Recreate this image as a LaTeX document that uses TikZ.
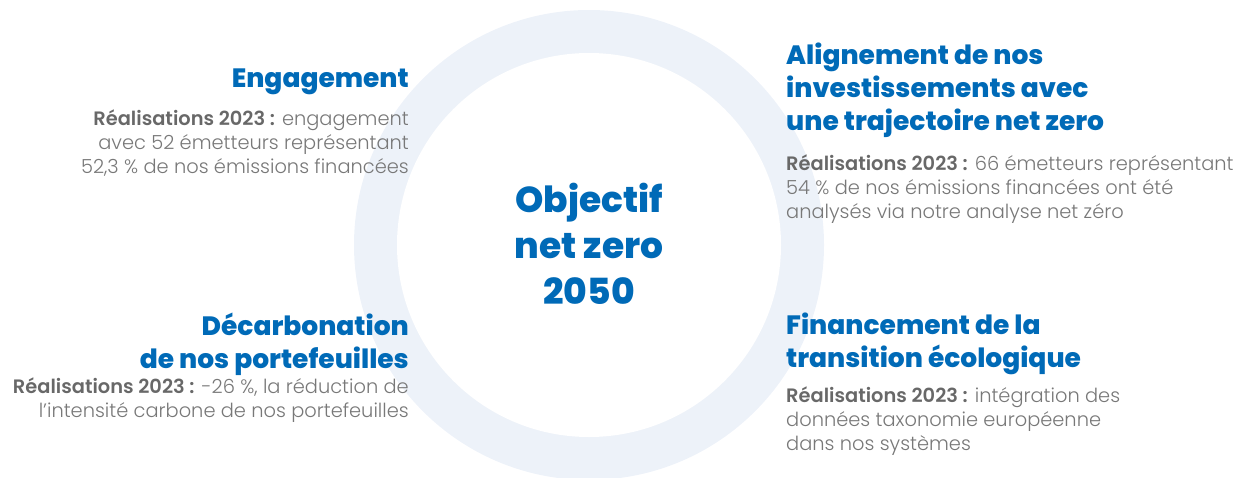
\documentclass[tikz,border=0pt]{standalone}
\usepackage{fontspec}
\setmainfont{Poppins}[BoldFont=Poppins ExtraBold]
\newfontfamily\poplight{Poppins Light}
\newfontfamily\popsemi{Poppins SemiBold}
\definecolor{ringc}{RGB}{237,242,249}
\definecolor{headc}{RGB}{0,106,183}
\definecolor{boldg}{RGB}{104,104,104}
\definecolor{lightg}{RGB}{120,120,120}
\tikzset{
  head/.style={inner sep=0pt, text=headc, font=\fontsize{26.5}{33}\selectfont\bfseries},
  body/.style={inner sep=0pt, text=lightg, font=\fontsize{19.4}{24}\selectfont\poplight},
  center/.style={inner sep=0pt, text=headc, align=center, font=\fontsize{36}{46}\selectfont\bfseries}
}
\newcommand{\rea}{{\popsemi\color{boldg}Réalisations 2023 :}}
\begin{document}
\begin{tikzpicture}[x=1pt,y=-1pt]
\useasboundingbox (0,0) rectangle (1253,477);
\node[circle, minimum size=470pt, fill=ringc, inner sep=0pt] (ring) at (589,245) {};
\node[circle, minimum size=384pt, fill=white, inner sep=0pt] (hole) at (ring.center) {};
\node[center, anchor=base] (goal) at (589,304) {Objectif\\net zero\\2050};
% top left
\node[head, anchor=base east] (h1) at (409,87) {Engagement};
\node[body, anchor=base east, align=right] (b1) at (409,173) {\rea{} engagement\\avec 52 émetteurs représentant\\52,3 \% de nos émissions financées};
% bottom left
\node[head, anchor=base east, align=right] (h2) at (409,368) {Décarbonation\\de nos portefeuilles};
\node[body, anchor=base east, align=right] (b2) at (409,417) {\rea{} -26 \%, la réduction de\\l’intensité carbone de nos portefeuilles};
% top right
\node[head, anchor=base west, align=left] (h3) at (786,130) {Alignement de nos\\investissements avec\\une trajectoire net zero};
\node[body, anchor=base west, align=left] (b3) at (786,218) {\rea{} 66 émetteurs représentant\\54 \% de nos émissions financées ont été\\analysés via notre analyse net zéro};
% bottom right
\node[head, anchor=base west, align=left] (h4) at (786,367) {Financement de la\\transition écologique};
\node[body, anchor=base west, align=left] (b4) at (786,450) {\rea{} intégration des\\données taxonomie européenne\\dans nos systèmes};
\end{tikzpicture}
\end{document}
